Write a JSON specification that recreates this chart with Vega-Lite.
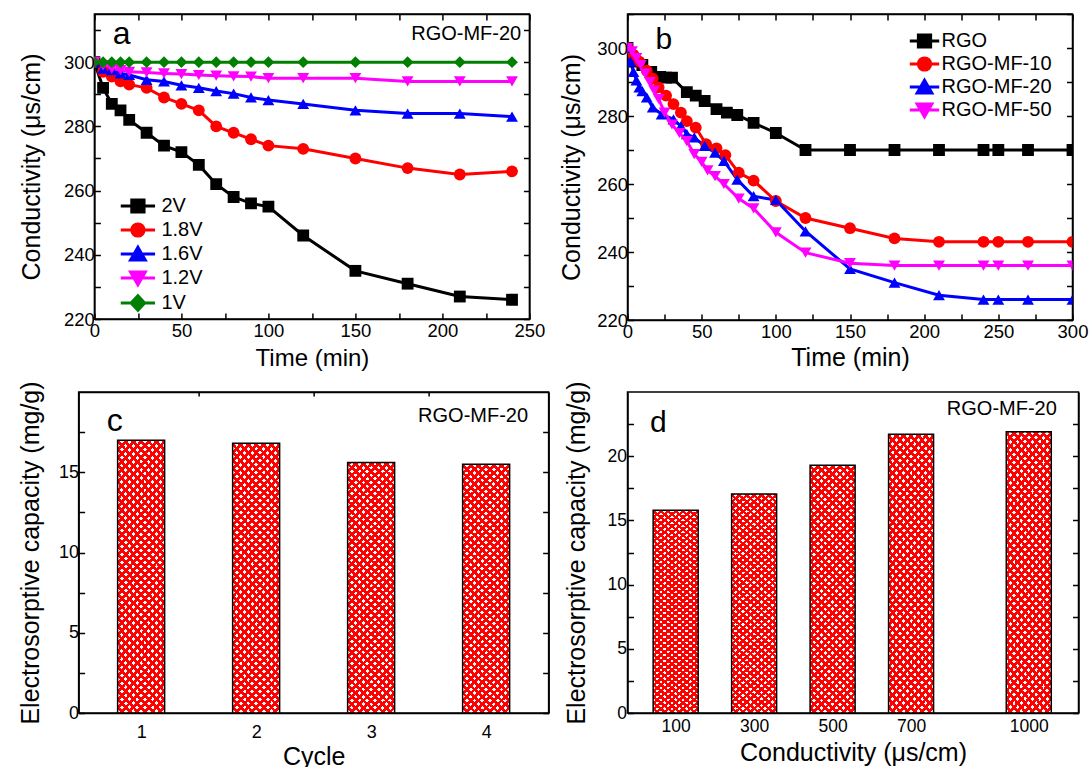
{
"$schema":"https://vega.github.io/schema/vega-lite/v6.json",
"background":"white",
"padding":{"left":17.5,"top":4,"right":0,"bottom":0},
"columns":2,
"align":"each",
"center":{"column":true,"row":false},
"spacing":{"row":8,"column":-3},
"config":{
 "font":"Liberation Sans",
 "view":{"stroke":"black","strokeWidth":1.5},
 "axis":{"grid":false,"domainColor":"black","domainWidth":1.5,"tickColor":"black","tickWidth":1.5,"labelColor":"black","titleColor":"black","titleFontWeight":"normal","labelFlush":false,"labelOverlap":false,"labelFont":"Liberation Sans","titleFont":"Liberation Sans","labelFontSize":18.5,"tickSize":-6},
 "legend":{"labelFont":"Liberation Sans","labelColor":"black"},
 "text":{"font":"Liberation Sans","color":"black"}
},
"concat":[
{
"width":435,"height":305,
"data":{"values":[
{"t":0,"v":300,"s":"2V"},{"t":5,"v":292,"s":"2V"},{"t":10,"v":287,"s":"2V"},{"t":15,"v":285,"s":"2V"},{"t":20,"v":282,"s":"2V"},{"t":30,"v":278,"s":"2V"},{"t":40,"v":274,"s":"2V"},{"t":50,"v":272,"s":"2V"},{"t":60,"v":268,"s":"2V"},{"t":70,"v":262,"s":"2V"},{"t":80,"v":258,"s":"2V"},{"t":90,"v":256,"s":"2V"},{"t":100,"v":255,"s":"2V"},{"t":120,"v":246,"s":"2V"},{"t":150,"v":235,"s":"2V"},{"t":180,"v":231,"s":"2V"},{"t":210,"v":227,"s":"2V"},{"t":240,"v":226,"s":"2V"},
{"t":0,"v":300,"s":"1.8V"},{"t":5,"v":297,"s":"1.8V"},{"t":10,"v":295.5,"s":"1.8V"},{"t":15,"v":294,"s":"1.8V"},{"t":20,"v":293,"s":"1.8V"},{"t":30,"v":292,"s":"1.8V"},{"t":40,"v":289,"s":"1.8V"},{"t":50,"v":287,"s":"1.8V"},{"t":60,"v":285,"s":"1.8V"},{"t":70,"v":280,"s":"1.8V"},{"t":80,"v":278,"s":"1.8V"},{"t":90,"v":276,"s":"1.8V"},{"t":100,"v":274,"s":"1.8V"},{"t":120,"v":273,"s":"1.8V"},{"t":150,"v":270,"s":"1.8V"},{"t":180,"v":267,"s":"1.8V"},{"t":210,"v":265,"s":"1.8V"},{"t":240,"v":266,"s":"1.8V"},
{"t":0,"v":300,"s":"1.6V"},{"t":5,"v":298,"s":"1.6V"},{"t":10,"v":297.5,"s":"1.6V"},{"t":15,"v":296.5,"s":"1.6V"},{"t":20,"v":296,"s":"1.6V"},{"t":30,"v":294.5,"s":"1.6V"},{"t":40,"v":294,"s":"1.6V"},{"t":50,"v":292.8,"s":"1.6V"},{"t":60,"v":292,"s":"1.6V"},{"t":70,"v":291,"s":"1.6V"},{"t":80,"v":290.2,"s":"1.6V"},{"t":90,"v":289,"s":"1.6V"},{"t":100,"v":288.2,"s":"1.6V"},{"t":120,"v":287,"s":"1.6V"},{"t":150,"v":285,"s":"1.6V"},{"t":180,"v":284,"s":"1.6V"},{"t":210,"v":284,"s":"1.6V"},{"t":240,"v":283,"s":"1.6V"},
{"t":0,"v":300,"s":"1.2V"},{"t":5,"v":299,"s":"1.2V"},{"t":10,"v":298,"s":"1.2V"},{"t":15,"v":297.5,"s":"1.2V"},{"t":20,"v":297,"s":"1.2V"},{"t":30,"v":296.8,"s":"1.2V"},{"t":40,"v":296.5,"s":"1.2V"},{"t":50,"v":296.3,"s":"1.2V"},{"t":60,"v":296,"s":"1.2V"},{"t":70,"v":295.8,"s":"1.2V"},{"t":80,"v":295.6,"s":"1.2V"},{"t":90,"v":295.5,"s":"1.2V"},{"t":100,"v":295,"s":"1.2V"},{"t":120,"v":295,"s":"1.2V"},{"t":150,"v":295,"s":"1.2V"},{"t":180,"v":294,"s":"1.2V"},{"t":210,"v":294,"s":"1.2V"},{"t":240,"v":294,"s":"1.2V"},
{"t":0,"v":300,"s":"1V"},{"t":5,"v":300,"s":"1V"},{"t":10,"v":300,"s":"1V"},{"t":15,"v":300,"s":"1V"},{"t":20,"v":300,"s":"1V"},{"t":30,"v":300,"s":"1V"},{"t":40,"v":300,"s":"1V"},{"t":50,"v":300,"s":"1V"},{"t":60,"v":300,"s":"1V"},{"t":70,"v":300,"s":"1V"},{"t":80,"v":300,"s":"1V"},{"t":90,"v":300,"s":"1V"},{"t":100,"v":300,"s":"1V"},{"t":120,"v":300,"s":"1V"},{"t":150,"v":300,"s":"1V"},{"t":180,"v":300,"s":"1V"},{"t":210,"v":300,"s":"1V"},{"t":240,"v":300,"s":"1V"}
]},
"layer":[
 {"mark":{"type":"line","strokeWidth":3,"clip":true},
  "encoding":{
   "x":{"field":"t","type":"quantitative","scale":{"domain":[0,250],"nice":false,"zero":false},
     "axis":{"orient":"bottom","values":[0,25,50,75,100,125,150,175,200,225,250],"labelExpr":"datum.value % 50 ? '' : datum.label","tickSize":-6,"labelFontSize":18.5,"labelPadding":8,"title":"Time (min)","titleFontSize":24,"titlePadding":7}},
   "y":{"field":"v","type":"quantitative","scale":{"domain":[220,315],"nice":false,"zero":false},
     "axis":{"orient":"left","values":[220,230,240,250,260,270,280,290,300,310],"labelExpr":"datum.value % 20 ? '' : datum.label","tickSize":-6,"labelFontSize":18.5,"labelPadding":6,"title":"Conductivity (μs/cm)","titleFontSize":25,"titleX":-50}},
   "color":{"field":"s","type":"nominal","scale":{"domain":["2V","1.8V","1.6V","1.2V","1V"],"range":["#000000","#ff0000","#0000ff","#ff00ff","#008000"]},"legend":null}
  }},
 {"mark":{"type":"point","filled":true,"opacity":1,"clip":true},
  "encoding":{
   "x":{"field":"t","type":"quantitative","axis":{"orient":"top","values":[0,25,50,75,100,125,150,175,200,225,250],"labels":false,"title":null,"tickSize":-6}},
   "y":{"field":"v","type":"quantitative","axis":{"orient":"right","values":[220,230,240,250,260,270,280,290,300,310],"labels":false,"title":null,"tickSize":-6}},
   "color":{"field":"s","type":"nominal","legend":null},
   "shape":{"field":"s","type":"nominal","scale":{"domain":["2V","1.8V","1.6V","1.2V","1V"],"range":["square","circle","triangle-up","triangle-down","diamond"]},"legend":null},
   "size":{"field":"s","type":"nominal","scale":{"domain":["2V","1.8V","1.6V","1.2V","1V"],"range":[140,140,210,190,190]},"legend":null}
  }},
 {"transform":[{"filter":"false"}],
  "mark":{"type":"point","filled":true,"strokeWidth":3,"opacity":1},
  "encoding":{
   "x":{"field":"t","type":"quantitative","axis":null},
   "y":{"field":"v","type":"quantitative","axis":null},
   "fill":{"field":"s","type":"nominal","scale":{"domain":["2V","1.8V","1.6V","1.2V","1V"],"range":["#000000","#ff0000","#0000ff","#ff00ff","#008000"]},"legend":{"orient":"none","legendX":33.5,"legendY":182,"title":null,"labelFontSize":20,"symbolSize":150,"symbolStrokeWidth":3,"rowPadding":-2,"labelOffset":13.5,"padding":0}},
   "stroke":{"field":"s","type":"nominal","scale":{"domain":["2V","1.8V","1.6V","1.2V","1V"],"range":["#000000","#ff0000","#0000ff","#ff00ff","#008000"]},"legend":{"orient":"none","legendX":33.5,"legendY":182,"title":null,"labelFontSize":20,"symbolSize":150,"symbolStrokeWidth":3,"rowPadding":-2,"labelOffset":13.5,"padding":0}},
   "shape":{"field":"s","type":"nominal","scale":{"domain":["2V","1.8V","1.6V","1.2V","1V"],"range":["M-2.8,0H2.8M-1,-1H1V1H-1Z","M-2.8,0H2.8M1,0A1,1,0,1,1,-1,0A1,1,0,1,1,1,0Z","M-2.8,0H2.8M0,-1.1L1.2,1H-1.2Z","M-2.8,0H2.8M0,1.1L1.2,-1H-1.2Z","M-2.8,0H2.8M0,-1.2L1.1,0L0,1.2L-1.1,0Z"]},"legend":{"orient":"none","legendX":33.5,"legendY":182,"title":null,"labelFontSize":20,"symbolSize":150,"symbolStrokeWidth":3,"rowPadding":-2,"labelOffset":13.5,"padding":0}}
  }},
 {"data":{"values":[{"label":"a"}]},"mark":{"type":"text","fontSize":32,"align":"left","baseline":"alphabetic"},
  "encoding":{"x":{"datum":10.6,"type":"quantitative","axis":null},"y":{"datum":305.8,"type":"quantitative","axis":null},"text":{"field":"label"}}},
 {"data":{"values":[{"label":"RGO-MF-20"}]},"mark":{"type":"text","fontSize":20,"align":"right","baseline":"alphabetic"},
  "encoding":{"x":{"datum":245.3,"type":"quantitative","axis":null},"y":{"datum":306.8,"type":"quantitative","axis":null},"text":{"field":"label"}}}
],
"resolve":{"scale":{"shape":"independent","size":"independent","fill":"independent","stroke":"independent"},"axis":{"x":"independent","y":"independent"}}
},
{
"width":445,"height":306,
"data":{"values":[
{"t":0,"v":300,"s":"RGO"},{"t":5,"v":296,"s":"RGO"},{"t":10,"v":295,"s":"RGO"},{"t":16,"v":293,"s":"RGO"},{"t":22,"v":291.5,"s":"RGO"},{"t":26,"v":291.3,"s":"RGO"},{"t":30,"v":291.3,"s":"RGO"},{"t":40,"v":287,"s":"RGO"},{"t":46,"v":286,"s":"RGO"},{"t":52,"v":284.4,"s":"RGO"},{"t":60,"v":282,"s":"RGO"},{"t":67,"v":281,"s":"RGO"},{"t":74,"v":280.3,"s":"RGO"},{"t":85,"v":278,"s":"RGO"},{"t":100,"v":275,"s":"RGO"},{"t":120,"v":270,"s":"RGO"},{"t":150,"v":270,"s":"RGO"},{"t":180,"v":270,"s":"RGO"},{"t":210,"v":270,"s":"RGO"},{"t":240,"v":270,"s":"RGO"},{"t":250,"v":270,"s":"RGO"},{"t":270,"v":270,"s":"RGO"},{"t":300,"v":270,"s":"RGO"},
{"t":0,"v":300,"s":"RGO-MF-10"},{"t":4,"v":298,"s":"RGO-MF-10"},{"t":8,"v":296,"s":"RGO-MF-10"},{"t":13,"v":293.3,"s":"RGO-MF-10"},{"t":17,"v":291,"s":"RGO-MF-10"},{"t":21,"v":288.4,"s":"RGO-MF-10"},{"t":26,"v":286,"s":"RGO-MF-10"},{"t":31,"v":283.5,"s":"RGO-MF-10"},{"t":36,"v":281,"s":"RGO-MF-10"},{"t":40,"v":278.5,"s":"RGO-MF-10"},{"t":46,"v":276.6,"s":"RGO-MF-10"},{"t":53,"v":271.7,"s":"RGO-MF-10"},{"t":60,"v":270.5,"s":"RGO-MF-10"},{"t":66,"v":268.5,"s":"RGO-MF-10"},{"t":75,"v":263.3,"s":"RGO-MF-10"},{"t":85,"v":261,"s":"RGO-MF-10"},{"t":100,"v":255,"s":"RGO-MF-10"},{"t":120,"v":250,"s":"RGO-MF-10"},{"t":150,"v":247,"s":"RGO-MF-10"},{"t":180,"v":244,"s":"RGO-MF-10"},{"t":210,"v":243,"s":"RGO-MF-10"},{"t":240,"v":243,"s":"RGO-MF-10"},{"t":250,"v":243,"s":"RGO-MF-10"},{"t":270,"v":243,"s":"RGO-MF-10"},{"t":300,"v":243,"s":"RGO-MF-10"},
{"t":0,"v":300,"s":"RGO-MF-20"},{"t":2,"v":296,"s":"RGO-MF-20"},{"t":4,"v":293,"s":"RGO-MF-20"},{"t":6,"v":290.5,"s":"RGO-MF-20"},{"t":8,"v":288.4,"s":"RGO-MF-20"},{"t":10,"v":287.3,"s":"RGO-MF-20"},{"t":13,"v":285.5,"s":"RGO-MF-20"},{"t":17,"v":282.5,"s":"RGO-MF-20"},{"t":23,"v":280.5,"s":"RGO-MF-20"},{"t":31,"v":279,"s":"RGO-MF-20"},{"t":36,"v":277,"s":"RGO-MF-20"},{"t":40,"v":274.7,"s":"RGO-MF-20"},{"t":45,"v":273.7,"s":"RGO-MF-20"},{"t":52,"v":271.2,"s":"RGO-MF-20"},{"t":59,"v":269.2,"s":"RGO-MF-20"},{"t":65,"v":266.8,"s":"RGO-MF-20"},{"t":74,"v":261.3,"s":"RGO-MF-20"},{"t":85,"v":256.4,"s":"RGO-MF-20"},{"t":100,"v":255.3,"s":"RGO-MF-20"},{"t":120,"v":246.1,"s":"RGO-MF-20"},{"t":150,"v":235,"s":"RGO-MF-20"},{"t":180,"v":231,"s":"RGO-MF-20"},{"t":210,"v":227.3,"s":"RGO-MF-20"},{"t":240,"v":226,"s":"RGO-MF-20"},{"t":250,"v":226,"s":"RGO-MF-20"},{"t":270,"v":226,"s":"RGO-MF-20"},{"t":300,"v":226,"s":"RGO-MF-20"},
{"t":0,"v":300,"s":"RGO-MF-50"},{"t":3,"v":299,"s":"RGO-MF-50"},{"t":6,"v":297,"s":"RGO-MF-50"},{"t":9,"v":295,"s":"RGO-MF-50"},{"t":12,"v":292.5,"s":"RGO-MF-50"},{"t":15,"v":290,"s":"RGO-MF-50"},{"t":18,"v":287.5,"s":"RGO-MF-50"},{"t":21,"v":285,"s":"RGO-MF-50"},{"t":25,"v":281,"s":"RGO-MF-50"},{"t":30,"v":277.5,"s":"RGO-MF-50"},{"t":35,"v":275,"s":"RGO-MF-50"},{"t":40,"v":272.6,"s":"RGO-MF-50"},{"t":45,"v":268.8,"s":"RGO-MF-50"},{"t":50,"v":266.5,"s":"RGO-MF-50"},{"t":54,"v":264,"s":"RGO-MF-50"},{"t":59,"v":262.3,"s":"RGO-MF-50"},{"t":65,"v":260,"s":"RGO-MF-50"},{"t":75,"v":255.7,"s":"RGO-MF-50"},{"t":85,"v":252.8,"s":"RGO-MF-50"},{"t":100,"v":245.8,"s":"RGO-MF-50"},{"t":120,"v":239.8,"s":"RGO-MF-50"},{"t":150,"v":236.7,"s":"RGO-MF-50"},{"t":180,"v":236,"s":"RGO-MF-50"},{"t":210,"v":236,"s":"RGO-MF-50"},{"t":240,"v":236,"s":"RGO-MF-50"},{"t":250,"v":236,"s":"RGO-MF-50"},{"t":270,"v":236,"s":"RGO-MF-50"},{"t":300,"v":236,"s":"RGO-MF-50"}
]},
"layer":[
 {"mark":{"type":"line","strokeWidth":3,"clip":true},
  "encoding":{
   "x":{"field":"t","type":"quantitative","scale":{"domain":[0,300],"nice":false,"zero":false},
     "axis":{"orient":"bottom","values":[0,25,50,75,100,125,150,175,200,225,250,275,300],"labelExpr":"datum.value % 50 ? '' : datum.label","tickSize":-6,"labelFontSize":18.5,"labelPadding":8,"title":"Time (min)","titleFontSize":25,"titlePadding":5}},
   "y":{"field":"v","type":"quantitative","scale":{"domain":[220,310],"nice":false,"zero":false},
     "axis":{"orient":"left","values":[220,230,240,250,260,270,280,290,300,310],"labelExpr":"datum.value % 20 ? '' : datum.label","tickSize":-6,"labelFontSize":18.5,"labelPadding":6,"title":"Conductivity (μs/cm)","titleFontSize":25,"titleX":-43}},
   "color":{"field":"s","type":"nominal","scale":{"domain":["RGO","RGO-MF-10","RGO-MF-20","RGO-MF-50"],"range":["#000000","#ff0000","#0000ff","#ff00ff"]},"legend":null}
  }},
 {"mark":{"type":"point","filled":true,"opacity":1,"clip":true},
  "encoding":{
   "x":{"field":"t","type":"quantitative","axis":{"orient":"top","values":[0,25,50,75,100,125,150,175,200,225,250,275,300],"labels":false,"title":null,"tickSize":-6}},
   "y":{"field":"v","type":"quantitative","axis":{"orient":"right","values":[220,230,240,250,260,270,280,290,300,310],"labels":false,"title":null,"tickSize":-6,"minExtent":35}},
   "color":{"field":"s","type":"nominal","legend":null},
   "shape":{"field":"s","type":"nominal","scale":{"domain":["RGO","RGO-MF-10","RGO-MF-20","RGO-MF-50"],"range":["square","circle","triangle-up","triangle-down"]},"legend":null},
   "size":{"field":"s","type":"nominal","scale":{"domain":["RGO","RGO-MF-10","RGO-MF-20","RGO-MF-50"],"range":[140,140,210,190]},"legend":null}
  }},
 {"transform":[{"filter":"false"}],
  "mark":{"type":"point","filled":true,"strokeWidth":3,"opacity":1},
  "encoding":{
   "x":{"field":"t","type":"quantitative","axis":null},
   "y":{"field":"v","type":"quantitative","axis":null},
   "fill":{"field":"s","type":"nominal","scale":{"domain":["RGO","RGO-MF-10","RGO-MF-20","RGO-MF-50"],"range":["#000000","#ff0000","#0000ff","#ff00ff"]},"legend":{"orient":"none","legendX":287,"legendY":17,"title":null,"labelFontSize":20,"symbolSize":150,"symbolStrokeWidth":3,"rowPadding":-3,"labelOffset":7,"padding":0}},
   "stroke":{"field":"s","type":"nominal","scale":{"domain":["RGO","RGO-MF-10","RGO-MF-20","RGO-MF-50"],"range":["#000000","#ff0000","#0000ff","#ff00ff"]},"legend":{"orient":"none","legendX":287,"legendY":17,"title":null,"labelFontSize":20,"symbolSize":150,"symbolStrokeWidth":3,"rowPadding":-3,"labelOffset":7,"padding":0}},
   "shape":{"field":"s","type":"nominal","scale":{"domain":["RGO","RGO-MF-10","RGO-MF-20","RGO-MF-50"],"range":["M-2.4,0H2.4M-1,-1H1V1H-1Z","M-2.4,0H2.4M1,0A1,1,0,1,1,-1,0A1,1,0,1,1,1,0Z","M-2.4,0H2.4M0,-1.1L1.2,1H-1.2Z","M-2.4,0H2.4M0,1.1L1.2,-1H-1.2Z"]},"legend":{"orient":"none","legendX":287,"legendY":17,"title":null,"labelFontSize":20,"symbolSize":150,"symbolStrokeWidth":3,"rowPadding":-3,"labelOffset":7,"padding":0}}
  }},
 {"data":{"values":[{"label":"b"}]},"mark":{"type":"text","fontSize":30,"align":"left","baseline":"alphabetic"},
  "encoding":{"x":{"datum":18.9,"type":"quantitative","axis":null},"y":{"datum":299.7,"type":"quantitative","axis":null},"text":{"field":"label"}}}
],
"resolve":{"scale":{"shape":"independent","size":"independent","fill":"independent","stroke":"independent"},"axis":{"x":"independent","y":"independent"}}
},
{
"width":470,"height":321,
"data":{"values":[{"cycle":1,"cap":17.0},{"cycle":2,"cap":16.8},{"cycle":3,"cap":15.6},{"cycle":4,"cap":15.5}]},
"layer":[
 {"mark":{"type":"bar","orient":"vertical","width":47,"fill":{"gradient":"linear","x1":0,"y1":0,"x2":0.206,"y2":1.143,"stops":[
{"offset":0,"color":"#f00"},{"offset":0.0125,"color":"#f00"},{"offset":0.0125,"color":"#fff"},{"offset":0.025,"color":"#fff"},
{"offset":0.025,"color":"#f00"},{"offset":0.0375,"color":"#f00"},{"offset":0.0375,"color":"#fff"},{"offset":0.05,"color":"#fff"},
{"offset":0.05,"color":"#f00"},{"offset":0.0625,"color":"#f00"},{"offset":0.0625,"color":"#fff"},{"offset":0.075,"color":"#fff"},
{"offset":0.075,"color":"#f00"},{"offset":0.0875,"color":"#f00"},{"offset":0.0875,"color":"#fff"},{"offset":0.1,"color":"#fff"},
{"offset":0.1,"color":"#f00"},{"offset":0.1125,"color":"#f00"},{"offset":0.1125,"color":"#fff"},{"offset":0.125,"color":"#fff"},
{"offset":0.125,"color":"#f00"},{"offset":0.1375,"color":"#f00"},{"offset":0.1375,"color":"#fff"},{"offset":0.15,"color":"#fff"},
{"offset":0.15,"color":"#f00"},{"offset":0.1625,"color":"#f00"},{"offset":0.1625,"color":"#fff"},{"offset":0.175,"color":"#fff"},
{"offset":0.175,"color":"#f00"},{"offset":0.1875,"color":"#f00"},{"offset":0.1875,"color":"#fff"},{"offset":0.2,"color":"#fff"},
{"offset":0.2,"color":"#f00"},{"offset":0.2125,"color":"#f00"},{"offset":0.2125,"color":"#fff"},{"offset":0.225,"color":"#fff"},
{"offset":0.225,"color":"#f00"},{"offset":0.2375,"color":"#f00"},{"offset":0.2375,"color":"#fff"},{"offset":0.25,"color":"#fff"},
{"offset":0.25,"color":"#f00"},{"offset":0.2625,"color":"#f00"},{"offset":0.2625,"color":"#fff"},{"offset":0.275,"color":"#fff"},
{"offset":0.275,"color":"#f00"},{"offset":0.2875,"color":"#f00"},{"offset":0.2875,"color":"#fff"},{"offset":0.3,"color":"#fff"},
{"offset":0.3,"color":"#f00"},{"offset":0.3125,"color":"#f00"},{"offset":0.3125,"color":"#fff"},{"offset":0.325,"color":"#fff"},
{"offset":0.325,"color":"#f00"},{"offset":0.3375,"color":"#f00"},{"offset":0.3375,"color":"#fff"},{"offset":0.35,"color":"#fff"},
{"offset":0.35,"color":"#f00"},{"offset":0.3625,"color":"#f00"},{"offset":0.3625,"color":"#fff"},{"offset":0.375,"color":"#fff"},
{"offset":0.375,"color":"#f00"},{"offset":0.3875,"color":"#f00"},{"offset":0.3875,"color":"#fff"},{"offset":0.4,"color":"#fff"},
{"offset":0.4,"color":"#f00"},{"offset":0.4125,"color":"#f00"},{"offset":0.4125,"color":"#fff"},{"offset":0.425,"color":"#fff"},
{"offset":0.425,"color":"#f00"},{"offset":0.4375,"color":"#f00"},{"offset":0.4375,"color":"#fff"},{"offset":0.45,"color":"#fff"},
{"offset":0.45,"color":"#f00"},{"offset":0.4625,"color":"#f00"},{"offset":0.4625,"color":"#fff"},{"offset":0.475,"color":"#fff"},
{"offset":0.475,"color":"#f00"},{"offset":0.4875,"color":"#f00"},{"offset":0.4875,"color":"#fff"},{"offset":0.5,"color":"#fff"},
{"offset":0.5,"color":"#f00"},{"offset":0.5125,"color":"#f00"},{"offset":0.5125,"color":"#fff"},{"offset":0.525,"color":"#fff"},
{"offset":0.525,"color":"#f00"},{"offset":0.5375,"color":"#f00"},{"offset":0.5375,"color":"#fff"},{"offset":0.55,"color":"#fff"},
{"offset":0.55,"color":"#f00"},{"offset":0.5625,"color":"#f00"},{"offset":0.5625,"color":"#fff"},{"offset":0.575,"color":"#fff"},
{"offset":0.575,"color":"#f00"},{"offset":0.5875,"color":"#f00"},{"offset":0.5875,"color":"#fff"},{"offset":0.6,"color":"#fff"},
{"offset":0.6,"color":"#f00"},{"offset":0.6125,"color":"#f00"},{"offset":0.6125,"color":"#fff"},{"offset":0.625,"color":"#fff"},
{"offset":0.625,"color":"#f00"},{"offset":0.6375,"color":"#f00"},{"offset":0.6375,"color":"#fff"},{"offset":0.65,"color":"#fff"},
{"offset":0.65,"color":"#f00"},{"offset":0.6625,"color":"#f00"},{"offset":0.6625,"color":"#fff"},{"offset":0.675,"color":"#fff"},
{"offset":0.675,"color":"#f00"},{"offset":0.6875,"color":"#f00"},{"offset":0.6875,"color":"#fff"},{"offset":0.7,"color":"#fff"},
{"offset":0.7,"color":"#f00"},{"offset":0.7125,"color":"#f00"},{"offset":0.7125,"color":"#fff"},{"offset":0.725,"color":"#fff"},
{"offset":0.725,"color":"#f00"},{"offset":0.7375,"color":"#f00"},{"offset":0.7375,"color":"#fff"},{"offset":0.75,"color":"#fff"},
{"offset":0.75,"color":"#f00"},{"offset":0.7625,"color":"#f00"},{"offset":0.7625,"color":"#fff"},{"offset":0.775,"color":"#fff"},
{"offset":0.775,"color":"#f00"},{"offset":0.7875,"color":"#f00"},{"offset":0.7875,"color":"#fff"},{"offset":0.8,"color":"#fff"},
{"offset":0.8,"color":"#f00"},{"offset":0.8125,"color":"#f00"},{"offset":0.8125,"color":"#fff"},{"offset":0.825,"color":"#fff"},
{"offset":0.825,"color":"#f00"},{"offset":0.8375,"color":"#f00"},{"offset":0.8375,"color":"#fff"},{"offset":0.85,"color":"#fff"},
{"offset":0.85,"color":"#f00"},{"offset":0.8625,"color":"#f00"},{"offset":0.8625,"color":"#fff"},{"offset":0.875,"color":"#fff"},
{"offset":0.875,"color":"#f00"},{"offset":0.8875,"color":"#f00"},{"offset":0.8875,"color":"#fff"},{"offset":0.9,"color":"#fff"},
{"offset":0.9,"color":"#f00"},{"offset":0.9125,"color":"#f00"},{"offset":0.9125,"color":"#fff"},{"offset":0.925,"color":"#fff"},
{"offset":0.925,"color":"#f00"},{"offset":0.9375,"color":"#f00"},{"offset":0.9375,"color":"#fff"},{"offset":0.95,"color":"#fff"},
{"offset":0.95,"color":"#f00"},{"offset":0.9625,"color":"#f00"},{"offset":0.9625,"color":"#fff"},{"offset":0.975,"color":"#fff"},
{"offset":0.975,"color":"#f00"},{"offset":0.9875,"color":"#f00"},{"offset":0.9875,"color":"#fff"},{"offset":1,"color":"#fff"}]}},
  "encoding":{
   "x":{"field":"cycle","type":"quantitative","scale":{"domain":[0.5,4.5],"nice":false,"zero":false},
     "axis":{"orient":"bottom","values":[1,2,3,4],"ticks":false,"labelFontSize":18,"labelPadding":10,"title":"Cycle","titleFontSize":25,"titlePadding":3}},
   "y":{"field":"cap","type":"quantitative","stack":null,"scale":{"domain":[0,20],"nice":false},
     "axis":{"orient":"left","values":[0,2.5,5,7.5,10,12.5,15,17.5],"labelExpr":"datum.value % 5 ? '' : datum.label","tickSize":-6,"labelFontSize":18,"labelPadding":6,"title":"Electrosorptive capacity (mg/g)","titleFontSize":25,"titleX":-35}}
  }},
 {"mark":{"type":"bar","orient":"vertical","width":47,"stroke":"black","strokeWidth":1.5,"fill":{"gradient":"linear","x1":1,"y1":0,"x2":0.794,"y2":1.143,"stops":[
{"offset":0,"color":"#f00"},{"offset":0.0125,"color":"#f00"},{"offset":0.0125,"color":"transparent"},{"offset":0.025,"color":"transparent"},
{"offset":0.025,"color":"#f00"},{"offset":0.0375,"color":"#f00"},{"offset":0.0375,"color":"transparent"},{"offset":0.05,"color":"transparent"},
{"offset":0.05,"color":"#f00"},{"offset":0.0625,"color":"#f00"},{"offset":0.0625,"color":"transparent"},{"offset":0.075,"color":"transparent"},
{"offset":0.075,"color":"#f00"},{"offset":0.0875,"color":"#f00"},{"offset":0.0875,"color":"transparent"},{"offset":0.1,"color":"transparent"},
{"offset":0.1,"color":"#f00"},{"offset":0.1125,"color":"#f00"},{"offset":0.1125,"color":"transparent"},{"offset":0.125,"color":"transparent"},
{"offset":0.125,"color":"#f00"},{"offset":0.1375,"color":"#f00"},{"offset":0.1375,"color":"transparent"},{"offset":0.15,"color":"transparent"},
{"offset":0.15,"color":"#f00"},{"offset":0.1625,"color":"#f00"},{"offset":0.1625,"color":"transparent"},{"offset":0.175,"color":"transparent"},
{"offset":0.175,"color":"#f00"},{"offset":0.1875,"color":"#f00"},{"offset":0.1875,"color":"transparent"},{"offset":0.2,"color":"transparent"},
{"offset":0.2,"color":"#f00"},{"offset":0.2125,"color":"#f00"},{"offset":0.2125,"color":"transparent"},{"offset":0.225,"color":"transparent"},
{"offset":0.225,"color":"#f00"},{"offset":0.2375,"color":"#f00"},{"offset":0.2375,"color":"transparent"},{"offset":0.25,"color":"transparent"},
{"offset":0.25,"color":"#f00"},{"offset":0.2625,"color":"#f00"},{"offset":0.2625,"color":"transparent"},{"offset":0.275,"color":"transparent"},
{"offset":0.275,"color":"#f00"},{"offset":0.2875,"color":"#f00"},{"offset":0.2875,"color":"transparent"},{"offset":0.3,"color":"transparent"},
{"offset":0.3,"color":"#f00"},{"offset":0.3125,"color":"#f00"},{"offset":0.3125,"color":"transparent"},{"offset":0.325,"color":"transparent"},
{"offset":0.325,"color":"#f00"},{"offset":0.3375,"color":"#f00"},{"offset":0.3375,"color":"transparent"},{"offset":0.35,"color":"transparent"},
{"offset":0.35,"color":"#f00"},{"offset":0.3625,"color":"#f00"},{"offset":0.3625,"color":"transparent"},{"offset":0.375,"color":"transparent"},
{"offset":0.375,"color":"#f00"},{"offset":0.3875,"color":"#f00"},{"offset":0.3875,"color":"transparent"},{"offset":0.4,"color":"transparent"},
{"offset":0.4,"color":"#f00"},{"offset":0.4125,"color":"#f00"},{"offset":0.4125,"color":"transparent"},{"offset":0.425,"color":"transparent"},
{"offset":0.425,"color":"#f00"},{"offset":0.4375,"color":"#f00"},{"offset":0.4375,"color":"transparent"},{"offset":0.45,"color":"transparent"},
{"offset":0.45,"color":"#f00"},{"offset":0.4625,"color":"#f00"},{"offset":0.4625,"color":"transparent"},{"offset":0.475,"color":"transparent"},
{"offset":0.475,"color":"#f00"},{"offset":0.4875,"color":"#f00"},{"offset":0.4875,"color":"transparent"},{"offset":0.5,"color":"transparent"},
{"offset":0.5,"color":"#f00"},{"offset":0.5125,"color":"#f00"},{"offset":0.5125,"color":"transparent"},{"offset":0.525,"color":"transparent"},
{"offset":0.525,"color":"#f00"},{"offset":0.5375,"color":"#f00"},{"offset":0.5375,"color":"transparent"},{"offset":0.55,"color":"transparent"},
{"offset":0.55,"color":"#f00"},{"offset":0.5625,"color":"#f00"},{"offset":0.5625,"color":"transparent"},{"offset":0.575,"color":"transparent"},
{"offset":0.575,"color":"#f00"},{"offset":0.5875,"color":"#f00"},{"offset":0.5875,"color":"transparent"},{"offset":0.6,"color":"transparent"},
{"offset":0.6,"color":"#f00"},{"offset":0.6125,"color":"#f00"},{"offset":0.6125,"color":"transparent"},{"offset":0.625,"color":"transparent"},
{"offset":0.625,"color":"#f00"},{"offset":0.6375,"color":"#f00"},{"offset":0.6375,"color":"transparent"},{"offset":0.65,"color":"transparent"},
{"offset":0.65,"color":"#f00"},{"offset":0.6625,"color":"#f00"},{"offset":0.6625,"color":"transparent"},{"offset":0.675,"color":"transparent"},
{"offset":0.675,"color":"#f00"},{"offset":0.6875,"color":"#f00"},{"offset":0.6875,"color":"transparent"},{"offset":0.7,"color":"transparent"},
{"offset":0.7,"color":"#f00"},{"offset":0.7125,"color":"#f00"},{"offset":0.7125,"color":"transparent"},{"offset":0.725,"color":"transparent"},
{"offset":0.725,"color":"#f00"},{"offset":0.7375,"color":"#f00"},{"offset":0.7375,"color":"transparent"},{"offset":0.75,"color":"transparent"},
{"offset":0.75,"color":"#f00"},{"offset":0.7625,"color":"#f00"},{"offset":0.7625,"color":"transparent"},{"offset":0.775,"color":"transparent"},
{"offset":0.775,"color":"#f00"},{"offset":0.7875,"color":"#f00"},{"offset":0.7875,"color":"transparent"},{"offset":0.8,"color":"transparent"},
{"offset":0.8,"color":"#f00"},{"offset":0.8125,"color":"#f00"},{"offset":0.8125,"color":"transparent"},{"offset":0.825,"color":"transparent"},
{"offset":0.825,"color":"#f00"},{"offset":0.8375,"color":"#f00"},{"offset":0.8375,"color":"transparent"},{"offset":0.85,"color":"transparent"},
{"offset":0.85,"color":"#f00"},{"offset":0.8625,"color":"#f00"},{"offset":0.8625,"color":"transparent"},{"offset":0.875,"color":"transparent"},
{"offset":0.875,"color":"#f00"},{"offset":0.8875,"color":"#f00"},{"offset":0.8875,"color":"transparent"},{"offset":0.9,"color":"transparent"},
{"offset":0.9,"color":"#f00"},{"offset":0.9125,"color":"#f00"},{"offset":0.9125,"color":"transparent"},{"offset":0.925,"color":"transparent"},
{"offset":0.925,"color":"#f00"},{"offset":0.9375,"color":"#f00"},{"offset":0.9375,"color":"transparent"},{"offset":0.95,"color":"transparent"},
{"offset":0.95,"color":"#f00"},{"offset":0.9625,"color":"#f00"},{"offset":0.9625,"color":"transparent"},{"offset":0.975,"color":"transparent"},
{"offset":0.975,"color":"#f00"},{"offset":0.9875,"color":"#f00"},{"offset":0.9875,"color":"transparent"},{"offset":1,"color":"transparent"}]}},
  "encoding":{
   "x":{"field":"cycle","type":"quantitative","axis":{"orient":"top","values":[1.5,2.5,3.5],"labels":false,"title":null,"tickSize":-4}},
   "y":{"field":"cap","type":"quantitative","stack":null,"axis":{"orient":"right","values":[0,2.5,5,7.5,10,12.5,15,17.5],"labels":false,"title":null,"tickSize":-6,"minExtent":12}}
  }},
 {"data":{"values":[{"label":"c"}]},"mark":{"type":"text","fontSize":32,"align":"left","baseline":"alphabetic"},
  "encoding":{"x":{"datum":0.7,"type":"quantitative","axis":null},"y":{"datum":17.6,"type":"quantitative","axis":null},"text":{"field":"label"}}},
 {"data":{"values":[{"label":"RGO-MF-20"}]},"mark":{"type":"text","fontSize":20,"align":"right","baseline":"alphabetic"},
  "encoding":{"x":{"datum":4.365,"type":"quantitative","axis":null},"y":{"datum":18.1,"type":"quantitative","axis":null},"text":{"field":"label"}}}
],
"resolve":{"axis":{"x":"independent","y":"independent"}}
},
{
"width":451,"height":321,
"data":{"values":[{"cond":100,"cap":15.8},{"cond":300,"cap":17.05},{"cond":500,"cap":19.3},{"cond":700,"cap":21.7},{"cond":1000,"cap":21.9}]},
"layer":[
 {"mark":{"type":"bar","orient":"vertical","width":45,"fill":{"gradient":"linear","x1":0,"y1":0,"x2":0.206,"y2":1.143,"stops":[
{"offset":0,"color":"#f00"},{"offset":0.0125,"color":"#f00"},{"offset":0.0125,"color":"#fff"},{"offset":0.025,"color":"#fff"},
{"offset":0.025,"color":"#f00"},{"offset":0.0375,"color":"#f00"},{"offset":0.0375,"color":"#fff"},{"offset":0.05,"color":"#fff"},
{"offset":0.05,"color":"#f00"},{"offset":0.0625,"color":"#f00"},{"offset":0.0625,"color":"#fff"},{"offset":0.075,"color":"#fff"},
{"offset":0.075,"color":"#f00"},{"offset":0.0875,"color":"#f00"},{"offset":0.0875,"color":"#fff"},{"offset":0.1,"color":"#fff"},
{"offset":0.1,"color":"#f00"},{"offset":0.1125,"color":"#f00"},{"offset":0.1125,"color":"#fff"},{"offset":0.125,"color":"#fff"},
{"offset":0.125,"color":"#f00"},{"offset":0.1375,"color":"#f00"},{"offset":0.1375,"color":"#fff"},{"offset":0.15,"color":"#fff"},
{"offset":0.15,"color":"#f00"},{"offset":0.1625,"color":"#f00"},{"offset":0.1625,"color":"#fff"},{"offset":0.175,"color":"#fff"},
{"offset":0.175,"color":"#f00"},{"offset":0.1875,"color":"#f00"},{"offset":0.1875,"color":"#fff"},{"offset":0.2,"color":"#fff"},
{"offset":0.2,"color":"#f00"},{"offset":0.2125,"color":"#f00"},{"offset":0.2125,"color":"#fff"},{"offset":0.225,"color":"#fff"},
{"offset":0.225,"color":"#f00"},{"offset":0.2375,"color":"#f00"},{"offset":0.2375,"color":"#fff"},{"offset":0.25,"color":"#fff"},
{"offset":0.25,"color":"#f00"},{"offset":0.2625,"color":"#f00"},{"offset":0.2625,"color":"#fff"},{"offset":0.275,"color":"#fff"},
{"offset":0.275,"color":"#f00"},{"offset":0.2875,"color":"#f00"},{"offset":0.2875,"color":"#fff"},{"offset":0.3,"color":"#fff"},
{"offset":0.3,"color":"#f00"},{"offset":0.3125,"color":"#f00"},{"offset":0.3125,"color":"#fff"},{"offset":0.325,"color":"#fff"},
{"offset":0.325,"color":"#f00"},{"offset":0.3375,"color":"#f00"},{"offset":0.3375,"color":"#fff"},{"offset":0.35,"color":"#fff"},
{"offset":0.35,"color":"#f00"},{"offset":0.3625,"color":"#f00"},{"offset":0.3625,"color":"#fff"},{"offset":0.375,"color":"#fff"},
{"offset":0.375,"color":"#f00"},{"offset":0.3875,"color":"#f00"},{"offset":0.3875,"color":"#fff"},{"offset":0.4,"color":"#fff"},
{"offset":0.4,"color":"#f00"},{"offset":0.4125,"color":"#f00"},{"offset":0.4125,"color":"#fff"},{"offset":0.425,"color":"#fff"},
{"offset":0.425,"color":"#f00"},{"offset":0.4375,"color":"#f00"},{"offset":0.4375,"color":"#fff"},{"offset":0.45,"color":"#fff"},
{"offset":0.45,"color":"#f00"},{"offset":0.4625,"color":"#f00"},{"offset":0.4625,"color":"#fff"},{"offset":0.475,"color":"#fff"},
{"offset":0.475,"color":"#f00"},{"offset":0.4875,"color":"#f00"},{"offset":0.4875,"color":"#fff"},{"offset":0.5,"color":"#fff"},
{"offset":0.5,"color":"#f00"},{"offset":0.5125,"color":"#f00"},{"offset":0.5125,"color":"#fff"},{"offset":0.525,"color":"#fff"},
{"offset":0.525,"color":"#f00"},{"offset":0.5375,"color":"#f00"},{"offset":0.5375,"color":"#fff"},{"offset":0.55,"color":"#fff"},
{"offset":0.55,"color":"#f00"},{"offset":0.5625,"color":"#f00"},{"offset":0.5625,"color":"#fff"},{"offset":0.575,"color":"#fff"},
{"offset":0.575,"color":"#f00"},{"offset":0.5875,"color":"#f00"},{"offset":0.5875,"color":"#fff"},{"offset":0.6,"color":"#fff"},
{"offset":0.6,"color":"#f00"},{"offset":0.6125,"color":"#f00"},{"offset":0.6125,"color":"#fff"},{"offset":0.625,"color":"#fff"},
{"offset":0.625,"color":"#f00"},{"offset":0.6375,"color":"#f00"},{"offset":0.6375,"color":"#fff"},{"offset":0.65,"color":"#fff"},
{"offset":0.65,"color":"#f00"},{"offset":0.6625,"color":"#f00"},{"offset":0.6625,"color":"#fff"},{"offset":0.675,"color":"#fff"},
{"offset":0.675,"color":"#f00"},{"offset":0.6875,"color":"#f00"},{"offset":0.6875,"color":"#fff"},{"offset":0.7,"color":"#fff"},
{"offset":0.7,"color":"#f00"},{"offset":0.7125,"color":"#f00"},{"offset":0.7125,"color":"#fff"},{"offset":0.725,"color":"#fff"},
{"offset":0.725,"color":"#f00"},{"offset":0.7375,"color":"#f00"},{"offset":0.7375,"color":"#fff"},{"offset":0.75,"color":"#fff"},
{"offset":0.75,"color":"#f00"},{"offset":0.7625,"color":"#f00"},{"offset":0.7625,"color":"#fff"},{"offset":0.775,"color":"#fff"},
{"offset":0.775,"color":"#f00"},{"offset":0.7875,"color":"#f00"},{"offset":0.7875,"color":"#fff"},{"offset":0.8,"color":"#fff"},
{"offset":0.8,"color":"#f00"},{"offset":0.8125,"color":"#f00"},{"offset":0.8125,"color":"#fff"},{"offset":0.825,"color":"#fff"},
{"offset":0.825,"color":"#f00"},{"offset":0.8375,"color":"#f00"},{"offset":0.8375,"color":"#fff"},{"offset":0.85,"color":"#fff"},
{"offset":0.85,"color":"#f00"},{"offset":0.8625,"color":"#f00"},{"offset":0.8625,"color":"#fff"},{"offset":0.875,"color":"#fff"},
{"offset":0.875,"color":"#f00"},{"offset":0.8875,"color":"#f00"},{"offset":0.8875,"color":"#fff"},{"offset":0.9,"color":"#fff"},
{"offset":0.9,"color":"#f00"},{"offset":0.9125,"color":"#f00"},{"offset":0.9125,"color":"#fff"},{"offset":0.925,"color":"#fff"},
{"offset":0.925,"color":"#f00"},{"offset":0.9375,"color":"#f00"},{"offset":0.9375,"color":"#fff"},{"offset":0.95,"color":"#fff"},
{"offset":0.95,"color":"#f00"},{"offset":0.9625,"color":"#f00"},{"offset":0.9625,"color":"#fff"},{"offset":0.975,"color":"#fff"},
{"offset":0.975,"color":"#f00"},{"offset":0.9875,"color":"#f00"},{"offset":0.9875,"color":"#fff"},{"offset":1,"color":"#fff"}]}},
  "encoding":{
   "x":{"field":"cond","type":"quantitative","scale":{"domain":[-10,1114],"nice":false,"zero":false},
     "axis":{"orient":"bottom","values":[100,300,500,700,1000],"format":"d","ticks":false,"labelFontSize":17.5,"labelPadding":4,"title":"Conductivity (μs/cm)","titleFontSize":25,"titlePadding":6}},
   "y":{"field":"cap","type":"quantitative","stack":null,"scale":{"domain":[0,25],"nice":false},
     "axis":{"orient":"left","values":[0,2.5,5,7.5,10,12.5,15,17.5,20,22.5],"labelExpr":"datum.value % 5 ? '' : datum.label","tickSize":-6,"labelFontSize":17.5,"labelPadding":7,"title":"Electrosorptive capacity (mg/g)","titleFontSize":25,"titleX":-38}}
  }},
 {"mark":{"type":"bar","orient":"vertical","width":45,"stroke":"black","strokeWidth":1.5,"fill":{"gradient":"linear","x1":1,"y1":0,"x2":0.794,"y2":1.143,"stops":[
{"offset":0,"color":"#f00"},{"offset":0.0125,"color":"#f00"},{"offset":0.0125,"color":"transparent"},{"offset":0.025,"color":"transparent"},
{"offset":0.025,"color":"#f00"},{"offset":0.0375,"color":"#f00"},{"offset":0.0375,"color":"transparent"},{"offset":0.05,"color":"transparent"},
{"offset":0.05,"color":"#f00"},{"offset":0.0625,"color":"#f00"},{"offset":0.0625,"color":"transparent"},{"offset":0.075,"color":"transparent"},
{"offset":0.075,"color":"#f00"},{"offset":0.0875,"color":"#f00"},{"offset":0.0875,"color":"transparent"},{"offset":0.1,"color":"transparent"},
{"offset":0.1,"color":"#f00"},{"offset":0.1125,"color":"#f00"},{"offset":0.1125,"color":"transparent"},{"offset":0.125,"color":"transparent"},
{"offset":0.125,"color":"#f00"},{"offset":0.1375,"color":"#f00"},{"offset":0.1375,"color":"transparent"},{"offset":0.15,"color":"transparent"},
{"offset":0.15,"color":"#f00"},{"offset":0.1625,"color":"#f00"},{"offset":0.1625,"color":"transparent"},{"offset":0.175,"color":"transparent"},
{"offset":0.175,"color":"#f00"},{"offset":0.1875,"color":"#f00"},{"offset":0.1875,"color":"transparent"},{"offset":0.2,"color":"transparent"},
{"offset":0.2,"color":"#f00"},{"offset":0.2125,"color":"#f00"},{"offset":0.2125,"color":"transparent"},{"offset":0.225,"color":"transparent"},
{"offset":0.225,"color":"#f00"},{"offset":0.2375,"color":"#f00"},{"offset":0.2375,"color":"transparent"},{"offset":0.25,"color":"transparent"},
{"offset":0.25,"color":"#f00"},{"offset":0.2625,"color":"#f00"},{"offset":0.2625,"color":"transparent"},{"offset":0.275,"color":"transparent"},
{"offset":0.275,"color":"#f00"},{"offset":0.2875,"color":"#f00"},{"offset":0.2875,"color":"transparent"},{"offset":0.3,"color":"transparent"},
{"offset":0.3,"color":"#f00"},{"offset":0.3125,"color":"#f00"},{"offset":0.3125,"color":"transparent"},{"offset":0.325,"color":"transparent"},
{"offset":0.325,"color":"#f00"},{"offset":0.3375,"color":"#f00"},{"offset":0.3375,"color":"transparent"},{"offset":0.35,"color":"transparent"},
{"offset":0.35,"color":"#f00"},{"offset":0.3625,"color":"#f00"},{"offset":0.3625,"color":"transparent"},{"offset":0.375,"color":"transparent"},
{"offset":0.375,"color":"#f00"},{"offset":0.3875,"color":"#f00"},{"offset":0.3875,"color":"transparent"},{"offset":0.4,"color":"transparent"},
{"offset":0.4,"color":"#f00"},{"offset":0.4125,"color":"#f00"},{"offset":0.4125,"color":"transparent"},{"offset":0.425,"color":"transparent"},
{"offset":0.425,"color":"#f00"},{"offset":0.4375,"color":"#f00"},{"offset":0.4375,"color":"transparent"},{"offset":0.45,"color":"transparent"},
{"offset":0.45,"color":"#f00"},{"offset":0.4625,"color":"#f00"},{"offset":0.4625,"color":"transparent"},{"offset":0.475,"color":"transparent"},
{"offset":0.475,"color":"#f00"},{"offset":0.4875,"color":"#f00"},{"offset":0.4875,"color":"transparent"},{"offset":0.5,"color":"transparent"},
{"offset":0.5,"color":"#f00"},{"offset":0.5125,"color":"#f00"},{"offset":0.5125,"color":"transparent"},{"offset":0.525,"color":"transparent"},
{"offset":0.525,"color":"#f00"},{"offset":0.5375,"color":"#f00"},{"offset":0.5375,"color":"transparent"},{"offset":0.55,"color":"transparent"},
{"offset":0.55,"color":"#f00"},{"offset":0.5625,"color":"#f00"},{"offset":0.5625,"color":"transparent"},{"offset":0.575,"color":"transparent"},
{"offset":0.575,"color":"#f00"},{"offset":0.5875,"color":"#f00"},{"offset":0.5875,"color":"transparent"},{"offset":0.6,"color":"transparent"},
{"offset":0.6,"color":"#f00"},{"offset":0.6125,"color":"#f00"},{"offset":0.6125,"color":"transparent"},{"offset":0.625,"color":"transparent"},
{"offset":0.625,"color":"#f00"},{"offset":0.6375,"color":"#f00"},{"offset":0.6375,"color":"transparent"},{"offset":0.65,"color":"transparent"},
{"offset":0.65,"color":"#f00"},{"offset":0.6625,"color":"#f00"},{"offset":0.6625,"color":"transparent"},{"offset":0.675,"color":"transparent"},
{"offset":0.675,"color":"#f00"},{"offset":0.6875,"color":"#f00"},{"offset":0.6875,"color":"transparent"},{"offset":0.7,"color":"transparent"},
{"offset":0.7,"color":"#f00"},{"offset":0.7125,"color":"#f00"},{"offset":0.7125,"color":"transparent"},{"offset":0.725,"color":"transparent"},
{"offset":0.725,"color":"#f00"},{"offset":0.7375,"color":"#f00"},{"offset":0.7375,"color":"transparent"},{"offset":0.75,"color":"transparent"},
{"offset":0.75,"color":"#f00"},{"offset":0.7625,"color":"#f00"},{"offset":0.7625,"color":"transparent"},{"offset":0.775,"color":"transparent"},
{"offset":0.775,"color":"#f00"},{"offset":0.7875,"color":"#f00"},{"offset":0.7875,"color":"transparent"},{"offset":0.8,"color":"transparent"},
{"offset":0.8,"color":"#f00"},{"offset":0.8125,"color":"#f00"},{"offset":0.8125,"color":"transparent"},{"offset":0.825,"color":"transparent"},
{"offset":0.825,"color":"#f00"},{"offset":0.8375,"color":"#f00"},{"offset":0.8375,"color":"transparent"},{"offset":0.85,"color":"transparent"},
{"offset":0.85,"color":"#f00"},{"offset":0.8625,"color":"#f00"},{"offset":0.8625,"color":"transparent"},{"offset":0.875,"color":"transparent"},
{"offset":0.875,"color":"#f00"},{"offset":0.8875,"color":"#f00"},{"offset":0.8875,"color":"transparent"},{"offset":0.9,"color":"transparent"},
{"offset":0.9,"color":"#f00"},{"offset":0.9125,"color":"#f00"},{"offset":0.9125,"color":"transparent"},{"offset":0.925,"color":"transparent"},
{"offset":0.925,"color":"#f00"},{"offset":0.9375,"color":"#f00"},{"offset":0.9375,"color":"transparent"},{"offset":0.95,"color":"transparent"},
{"offset":0.95,"color":"#f00"},{"offset":0.9625,"color":"#f00"},{"offset":0.9625,"color":"transparent"},{"offset":0.975,"color":"transparent"},
{"offset":0.975,"color":"#f00"},{"offset":0.9875,"color":"#f00"},{"offset":0.9875,"color":"transparent"},{"offset":1,"color":"transparent"}]}},
  "encoding":{
   "x":{"field":"cond","type":"quantitative","axis":null},
   "y":{"field":"cap","type":"quantitative","stack":null,"axis":{"orient":"right","values":[0,2.5,5,7.5,10,12.5,15,17.5,20,22.5],"labels":false,"title":null,"tickSize":-6}}
  }},
 {"data":{"values":[{"label":"d"}]},"mark":{"type":"text","fontSize":30,"align":"left","baseline":"alphabetic"},
  "encoding":{"x":{"datum":34.5,"type":"quantitative","axis":null},"y":{"datum":21.9,"type":"quantitative","axis":null},"text":{"field":"label"}}},
 {"data":{"values":[{"label":"RGO-MF-20"}]},"mark":{"type":"text","fontSize":20,"align":"right","baseline":"alphabetic"},
  "encoding":{"x":{"datum":1071.6,"type":"quantitative","axis":null},"y":{"datum":23.2,"type":"quantitative","axis":null},"text":{"field":"label"}}}
],
"resolve":{"axis":{"x":"independent","y":"independent"}}
}
]
}
